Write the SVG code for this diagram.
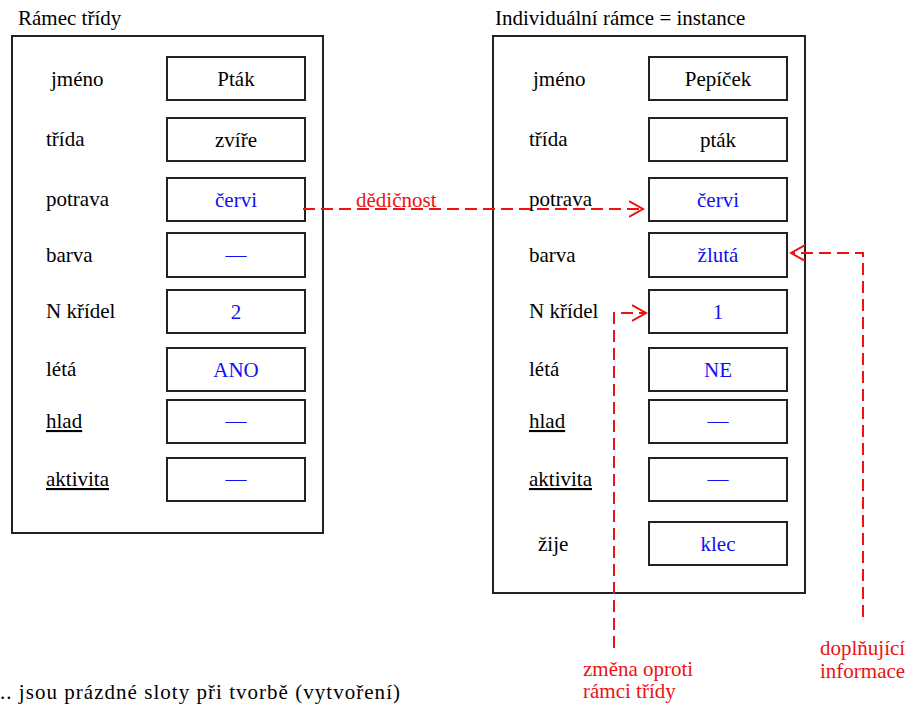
<svg xmlns="http://www.w3.org/2000/svg" width="912" height="708" viewBox="0 0 912 708" font-family="'Liberation Serif', 'Times New Roman', Tinos, 'Noto Serif', 'DejaVu Serif', serif" font-size="21">
<defs>
<style>
text{font-family:'Liberation Serif','Times New Roman',Tinos,'Noto Serif','DejaVu Serif',serif;font-size:21px;fill:#000}
.frame{fill:none;stroke:#222;stroke-width:2}
.box{fill:#fff;stroke:#222;stroke-width:2}
text.val{fill:#1010f0;text-anchor:middle}
text.red{fill:#ee1111}
.dash{fill:none;stroke:#ee1111;stroke-width:2;stroke-dasharray:12 6}
.ul{text-decoration:underline}
</style>
<marker id="ah" markerWidth="16" markerHeight="20" refX="14" refY="9" orient="auto" markerUnits="userSpaceOnUse">
<path d="M0,1 L14,9 L0,17" fill="none" stroke="#ee1111" stroke-width="2"/>
</marker>
</defs>
<rect width="912" height="708" fill="#fff"/>

<g id="class-frame">
<text x="18" y="25">Rámec třídy</text>
<rect class="frame" x="12" y="36" width="311" height="497"/>
</g>
<g id="class-slots">
<g id="c-jmeno"><text x="51" y="86">jméno</text><rect class="box" x="167" y="57" width="138" height="43"/><text x="236" y="86" text-anchor="middle">Pták</text></g>
<g id="c-trida"><text x="46" y="146">třída</text><rect class="box" x="167" y="118" width="138" height="43"/><text x="236" y="147" text-anchor="middle">zvíře</text></g>
<g id="c-potrava"><text x="46" y="206">potrava</text><rect class="box" x="167" y="178" width="138" height="43"/><text class="val" fill="#1010f0" x="236" y="207">červi</text></g>
<g id="c-barva"><text x="46" y="262">barva</text><rect class="box" x="167" y="233" width="138" height="44"/><text class="val" fill="#1010f0" x="236" y="262">—</text></g>
<g id="c-nkridel"><text x="46" y="318">N křídel</text><rect class="box" x="167" y="290" width="138" height="43"/><text class="val" fill="#1010f0" x="236" y="319">2</text></g>
<g id="c-leta"><text x="46" y="376">létá</text><rect class="box" x="167" y="348" width="138" height="43"/><text class="val" fill="#1010f0" x="236" y="377">ANO</text></g>
<g id="c-hlad"><text class="ul" x="46" y="428">hlad</text><rect class="box" x="167" y="400" width="138" height="43"/><text class="val" fill="#1010f0" x="236" y="428">—</text></g>
<g id="c-aktivita"><text class="ul" x="46" y="486">aktivita</text><rect class="box" x="167" y="458" width="138" height="43"/><text class="val" fill="#1010f0" x="236" y="486">—</text></g>
</g>

<g id="instance-frame">
<text x="495" y="25">Individuální rámce = instance</text>
<rect class="frame" x="493" y="36" width="312" height="557"/>
</g>
<g id="instance-slots">
<g id="i-jmeno"><text x="533" y="86">jméno</text><rect class="box" x="649" y="57" width="138" height="43"/><text x="718" y="86" text-anchor="middle">Pepíček</text></g>
<g id="i-trida"><text x="529" y="146">třída</text><rect class="box" x="649" y="118" width="138" height="43"/><text x="718" y="147" text-anchor="middle">pták</text></g>
<g id="i-potrava"><text x="529" y="206">potrava</text><rect class="box" x="649" y="178" width="138" height="43"/><text class="val" fill="#1010f0" x="718" y="207">červi</text></g>
<g id="i-barva"><text x="529" y="262">barva</text><rect class="box" x="649" y="233" width="138" height="44"/><text class="val" fill="#1010f0" x="718" y="262">žlutá</text></g>
<g id="i-nkridel"><text x="529" y="318">N křídel</text><rect class="box" x="649" y="290" width="138" height="43"/><text class="val" fill="#1010f0" x="718" y="319">1</text></g>
<g id="i-leta"><text x="529" y="376">létá</text><rect class="box" x="649" y="348" width="138" height="43"/><text class="val" fill="#1010f0" x="718" y="377">NE</text></g>
<g id="i-hlad"><text class="ul" x="529" y="428">hlad</text><rect class="box" x="649" y="400" width="138" height="43"/><text class="val" fill="#1010f0" x="718" y="428">—</text></g>
<g id="i-aktivita"><text class="ul" x="529" y="486">aktivita</text><rect class="box" x="649" y="458" width="138" height="43"/><text class="val" fill="#1010f0" x="718" y="486">—</text></g>
<g id="i-zije"><text x="538" y="551">žije</text><rect class="box" x="649" y="522" width="138" height="43"/><text class="val" fill="#1010f0" x="718" y="551">klec</text></g>
</g>

<g id="connectors">
<path class="dash" d="M303,209 H643" marker-end="url(#ah)"/>
<path class="dash" d="M863,617 V253 H791" marker-end="url(#ah)"/>
<path class="dash" d="M614,648 V313 H646" marker-end="url(#ah)"/>
</g>

<g id="labels">
<text class="red" x="356" y="207">dědičnost</text>
<text class="red" x="583" y="676">změna oproti</text>
<text class="red" x="583" y="698">rámci třídy</text>
<text class="red" x="820" y="655">doplňující</text>
<text class="red" x="820" y="678">informace</text>
<text x="0" y="699" textLength="400" lengthAdjust="spacing">.. jsou prázdné sloty při tvorbě (vytvoření)</text>
</g>
</svg>
